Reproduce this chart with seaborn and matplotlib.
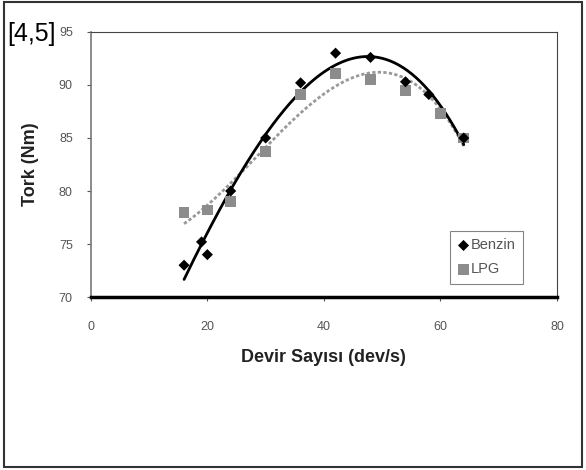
import numpy as np
import pandas as pd
import matplotlib
matplotlib.use("Agg")
import matplotlib.pyplot as plt
import seaborn as sns

# ==== DATA ====
benzin_x = [16, 19, 20, 24, 30, 36, 42, 48, 54, 58, 64]
benzin_y = [73.0, 75.2, 74.0, 80.0, 85.0, 90.2, 93.0, 92.6, 90.3, 89.1, 85.0]
lpg_x = [16, 20, 24, 30, 36, 42, 48, 54, 60, 64]
lpg_y = [78.0, 78.2, 79.0, 83.7, 89.1, 91.1, 90.5, 89.5, 87.3, 85.0]

x_ticks = [0, 20, 40, 60, 80]
y_ticks = [70, 75, 80, 85, 90, 95]

# ==== TRENDLINES (Excel-style polynomial fit) ====
def trend(xs, ys, deg=3):
    coef = np.polyfit(xs, ys, deg)
    xx = np.linspace(min(xs), max(xs), 200)
    return pd.DataFrame({"x": xx, "y": np.polyval(coef, xx)})

benzin = pd.DataFrame({"x": benzin_x, "y": benzin_y})
lpg = pd.DataFrame({"x": lpg_x, "y": lpg_y})
benzin_fit = trend(benzin_x, benzin_y)
lpg_fit = trend(lpg_x, lpg_y)

# ==== PLOT ====
sns.set_style("white")
plt.rcParams["font.family"] = ["Liberation Sans", "DejaVu Sans"]

fig = plt.figure(figsize=(5.86, 4.70), dpi=100)
ax = fig.add_axes([0.155, 0.368, 0.7955, 0.564])

lpg_color = "#8c8c8c"
sns.lineplot(data=lpg_fit, x="x", y="y", ax=ax, color="#9a9a9a",
             linewidth=2, linestyle=(0, (1.2, 0.8)))
sns.lineplot(data=benzin_fit, x="x", y="y", ax=ax, color="black", linewidth=2)
sns.scatterplot(data=lpg, x="x", y="y", ax=ax, marker="s", s=58,
                color=lpg_color, edgecolor="none", label="LPG", zorder=3)
sns.scatterplot(data=benzin, x="x", y="y", ax=ax, marker="D", s=32,
                color="black", edgecolor="none", label="Benzin", zorder=4)

ax.set_xlim(0, 80)
ax.set_ylim(70, 95)
ax.set_xticks(x_ticks)
ax.set_yticks(y_ticks)
ax.tick_params(axis="both", labelsize=9, colors="#555555", length=3,
               direction="out", left=True, bottom=True)
ax.tick_params(axis="x", pad=14)
ax.tick_params(axis="y", pad=10)
for s in ["top", "right"]:
    ax.spines[s].set_color("#444444")
    ax.spines[s].set_linewidth(0.8)
ax.spines["left"].set_color("#777777")
ax.spines["left"].set_linewidth(1.2)
ax.spines["bottom"].set_color("black")
ax.spines["bottom"].set_linewidth(2.5)

ax.set_xlabel("Devir Sayısı (dev/s)", fontsize=13, fontweight="bold",
              color="#222222", labelpad=12)
ax.set_ylabel("Tork (Nm)", fontsize=13, fontweight="bold",
              color="#222222", labelpad=14)

handles, labels = ax.get_legend_handles_labels()
order = [labels.index("Benzin"), labels.index("LPG")]
leg = ax.legend([handles[i] for i in order], [labels[i] for i in order],
                loc="lower right", bbox_to_anchor=(0.927, 0.05), fontsize=10.5,
                frameon=True, fancybox=False, handletextpad=0.1,
                handlelength=0.8, borderpad=0.5, labelspacing=0.7,
                borderaxespad=0)
leg.get_frame().set_edgecolor("#666666")
leg.get_frame().set_linewidth(0.8)
for t in leg.get_texts():
    t.set_color("#555555")

fig.text(0.012, 0.913, "[4,5]", fontsize=18, color="black")

# outer frame
fig.add_artist(plt.Rectangle((0.006, 0.006), 0.988, 0.99, transform=fig.transFigure,
                             fill=False, edgecolor="#333333", linewidth=1.5))

fig.savefig("out.png", dpi=100)
